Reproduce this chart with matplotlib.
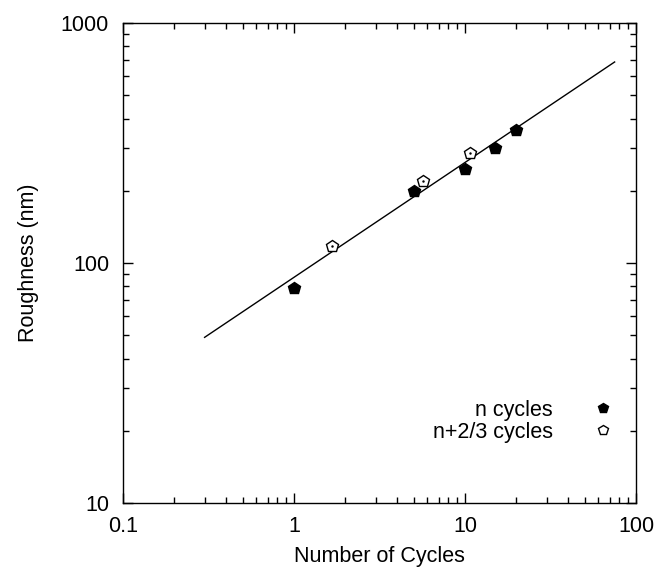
import matplotlib
matplotlib.use("Agg")
import matplotlib.pyplot as plt
from matplotlib.ticker import FixedLocator, FixedFormatter, LogLocator, NullFormatter

plt.rcParams['font.family'] = ['Liberation Sans', 'DejaVu Sans']

# Data
n_cycles_x = [1, 5, 10, 15, 20]
n_cycles_y = [79, 200, 246, 301, 358]
n23_cycles_x = [1.67, 5.67, 10.67]
n23_cycles_y = [118, 220, 288]
fit_x = [0.3, 75]
fit_y = [49, 688]

x_ticks = [0.1, 1, 10, 100]
x_labels = ["0.1", "1", "10", "100"]
y_ticks = [10, 100, 1000]
y_labels = ["10", "100", "1000"]

FS = 15.5

fig = plt.figure(figsize=(6.59, 5.71), dpi=100)
ax = fig.add_axes([123/659, 1-503/571, (636-123)/659, (503-23)/571])

ax.plot(fit_x, fit_y, color='black', lw=1.0, zorder=1)
ax.plot(n_cycles_x, n_cycles_y, linestyle='none', marker='p', ms=9,
        mfc='black', mec='black', mew=1.0, label='n cycles', zorder=3)
ax.plot(n23_cycles_x, n23_cycles_y, linestyle='none', marker='p', ms=9,
        mfc='white', mec='black', mew=1.0, label='n+2/3 cycles', zorder=3)
ax.plot(n23_cycles_x, n23_cycles_y, linestyle='none', marker='.', ms=1.5,
        color='black', zorder=4)

ax.set_xscale('log')
ax.set_yscale('log')
ax.set_xlim(0.1, 100)
ax.set_ylim(10, 1000)

ax.xaxis.set_major_locator(FixedLocator(x_ticks))
ax.xaxis.set_major_formatter(FixedFormatter(x_labels))
ax.yaxis.set_major_locator(FixedLocator(y_ticks))
ax.yaxis.set_major_formatter(FixedFormatter(y_labels))
ax.xaxis.set_minor_locator(LogLocator(base=10, subs=range(2, 10)))
ax.yaxis.set_minor_locator(LogLocator(base=10, subs=range(2, 10)))
ax.xaxis.set_minor_formatter(NullFormatter())
ax.yaxis.set_minor_formatter(NullFormatter())

ax.tick_params(which='both', direction='in', top=True, right=True, labelsize=FS, width=1.0)
ax.tick_params(which='major', length=7)
ax.tick_params(which='minor', length=4)
ax.tick_params(axis='x', which='major', pad=9)
ax.tick_params(axis='y', which='major', pad=10)
for s in ax.spines.values():
    s.set_linewidth(1.0)

ax.set_xlabel('Number of Cycles', fontsize=FS, labelpad=7)
ax.set_ylabel('Roughness (nm)', fontsize=FS, labelpad=16)

leg = ax.legend(loc='center right', bbox_to_anchor=(0.957, 0.17), frameon=False,
                markerfirst=False, fontsize=FS, handletextpad=1.83,
                labelspacing=0.05, handlelength=1.0, borderpad=0, borderaxespad=0,
                markerscale=0.85)
for t in leg.get_texts():
    t.set_ha('right')

fig.savefig('out.png', dpi=100)
